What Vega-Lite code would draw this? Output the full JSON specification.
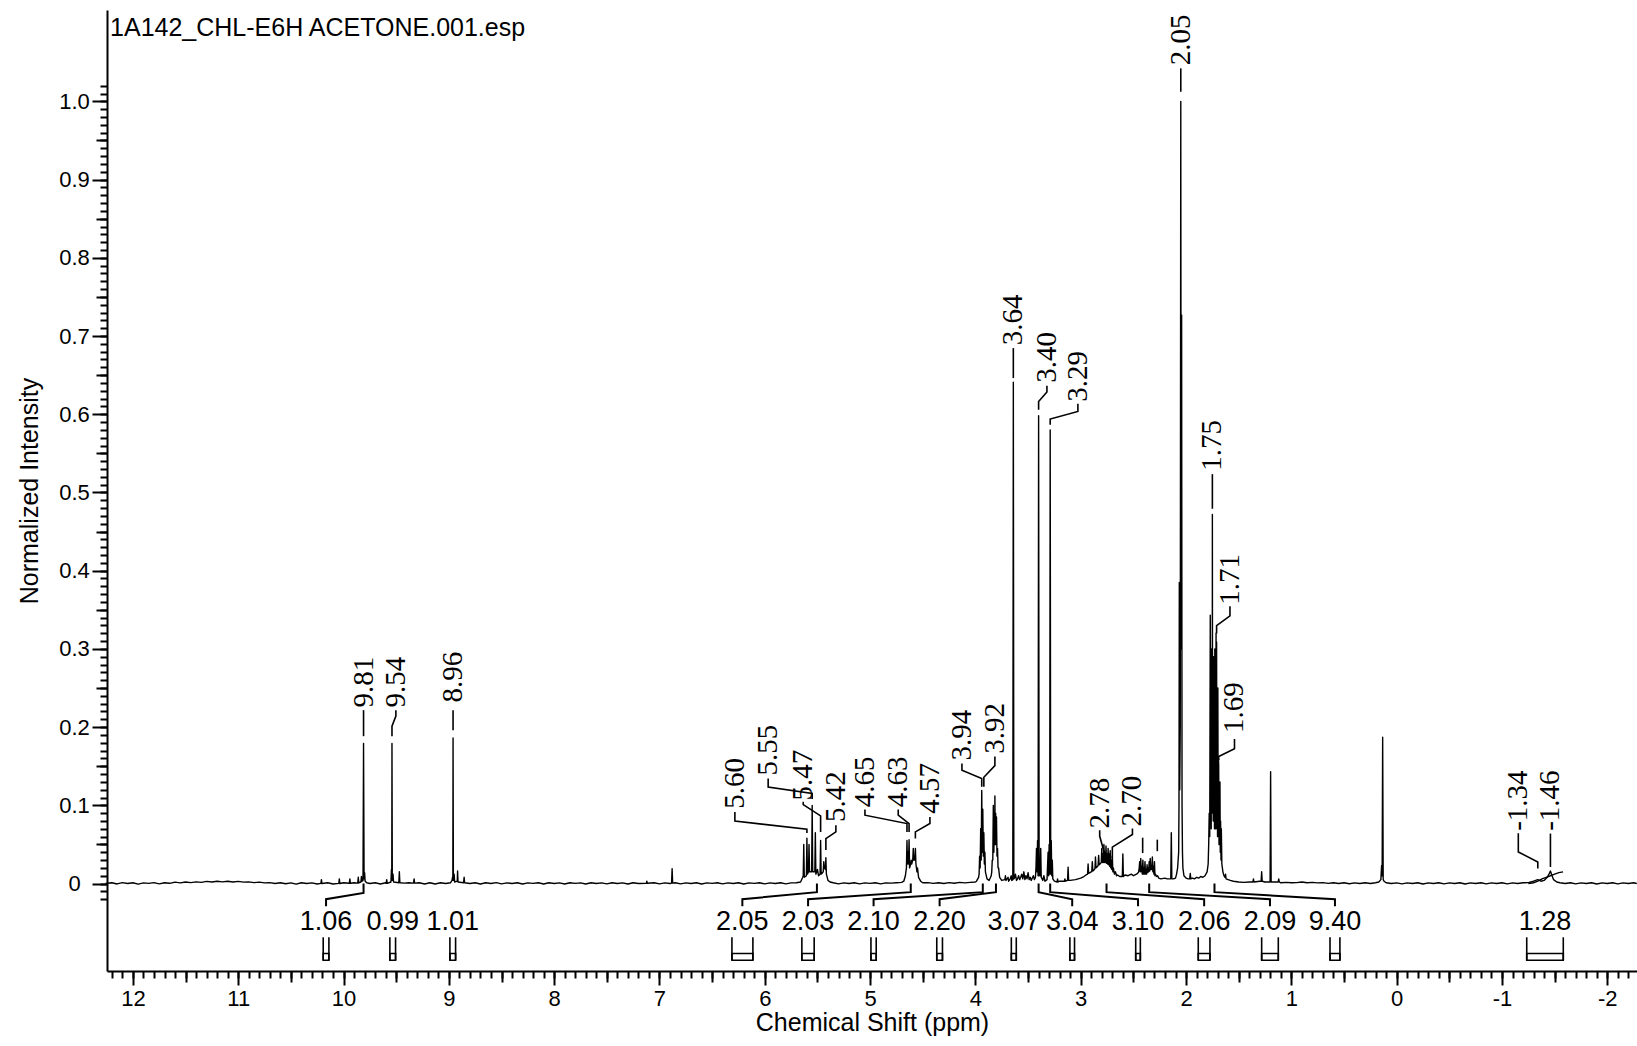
{
  "$schema": "https://vega.github.io/schema/vega-lite/v6.json",
  "width": 1530,
  "height": 961,
  "autosize": "none",
  "padding": {"left": 107, "top": 10, "right": 0, "bottom": 75},
  "background": "white",
  "config": {
    "view": {"stroke": null},
    "axis": {"grid": false, "labelFlush": false, "labelOverlap": false, "labelBound": false, "domainColor": "#000000", "tickColor": "#000000", "labelColor": "#000000", "titleColor": "#000000"}
  },
  "datasets": {
    "heading": [{"t": "1A142_CHL-E6H ACETONE.001.esp"}],
    "spectrum": [
      {"p":12.26,"i":0},{"p":12.2,"i":0.001},{"p":12.15,"i":-0.0005},{"p":12.1,"i":0.0012},{"p":12.05,"i":0},{"p":12,"i":0.001},{"p":11.95,"i":-0.0008},{"p":11.9,"i":0.0008},{"p":11.85,"i":0.0002},{"p":11.8,"i":0.0012},{"p":11.75,"i":-0.0004},{"p":11.7,"i":0.001},{"p":11.65,"i":0.0003},{"p":11.6,"i":0.0018},{"p":11.55,"i":0.0008},{"p":11.5,"i":0.002},{"p":11.45,"i":0.0012},{"p":11.4,"i":0.0022},{"p":11.35,"i":0.0015},{"p":11.3,"i":0.0028},{"p":11.25,"i":0.002},{"p":11.2,"i":0.003},{"p":11.15,"i":0.0022},{"p":11.1,"i":0.003},{"p":11.05,"i":0.002},{"p":11,"i":0.0028},{"p":10.95,"i":0.0018},{"p":10.9,"i":0.0022},{"p":10.85,"i":0.0012},{"p":10.8,"i":0.0018},{"p":10.75,"i":0.0008},{"p":10.7,"i":0.0012},{"p":10.65,"i":0},{"p":10.6,"i":0.001},{"p":10.55,"i":-0.0003},{"p":10.5,"i":0.0008},{"p":10.45,"i":-0.0008},{"p":10.4,"i":0.001},{"p":10.35,"i":0},{"p":10.3,"i":0.0008},{"p":10.25,"i":-0.0006},
      {"p":10.215,"i":0.0002},{"p":10.21,"i":0.005},{"p":10.205,"i":0},{"p":10.15,"i":0.001},{"p":10.1,"i":-0.0006},{"p":10.045,"i":0.0002},{"p":10.04,"i":0.006},{"p":10.035,"i":0},{"p":10,"i":0.001},{"p":9.945,"i":0.0003},{"p":9.94,"i":0.006},{"p":9.935,"i":0.0003},{"p":9.9,"i":0.001},{"p":9.865,"i":0.0005},{"p":9.86,"i":0.008},{"p":9.855,"i":0.0008},{"p":9.835,"i":0.002},{"p":9.83,"i":0.009},{"p":9.825,"i":0.003},{"p":9.815,"i":0.004},{"p":9.81,"i":0.179},{"p":9.805,"i":0.006},{"p":9.8,"i":0.014},{"p":9.795,"i":0.003},{"p":9.78,"i":0.001},{"p":9.75,"i":0},{"p":9.7,"i":0.001},{"p":9.65,"i":-0.0005},{"p":9.6,"i":0.001},{"p":9.595,"i":0.0003},{"p":9.59,"i":0.005},{"p":9.585,"i":0.0003},{"p":9.55,"i":0.002},{"p":9.545,"i":0.018},{"p":9.542,"i":0.005},{"p":9.54,"i":0.179},{"p":9.537,"i":0.004},{"p":9.53,"i":0.012},{"p":9.525,"i":0.002},{"p":9.475,"i":0.001},{"p":9.47,"i":0.015},{"p":9.465,"i":0.001},{"p":9.42,"i":0.0005},{"p":9.38,"i":0.001},{"p":9.335,"i":0.0005},{"p":9.33,"i":0.006},{"p":9.325,"i":0.0005},{"p":9.28,"i":0.001},{"p":9.23,"i":-0.0005},{"p":9.18,"i":0.001},{"p":9.13,"i":-0.0005},{"p":9.08,"i":0.001},{"p":9.03,"i":0},
      {"p":8.985,"i":0.001},{"p":8.97,"i":0.004},{"p":8.965,"i":0.008},{"p":8.962,"i":0.004},{"p":8.96,"i":0.186},{"p":8.957,"i":0.004},{"p":8.95,"i":0.012},{"p":8.945,"i":0.002},{"p":8.92,"i":0.003},{"p":8.917,"i":0.016},{"p":8.913,"i":0.002},{"p":8.86,"i":0.001},{"p":8.855,"i":0.008},{"p":8.85,"i":0.001},{"p":8.8,"i":0},{"p":8.75,"i":0.001},{"p":8.7,"i":-0.0005},{"p":8.65,"i":0.001},{"p":8.6,"i":0},{"p":8.55,"i":0.0012},{"p":8.5,"i":-0.0004},{"p":8.45,"i":0.0008},{"p":8.4,"i":0},{"p":8.35,"i":0.001},{"p":8.3,"i":-0.0006},{"p":8.25,"i":0.0008},{"p":8.2,"i":0.0002},{"p":8.15,"i":0.001},{"p":8.1,"i":-0.0005},{"p":8.05,"i":0.001},{"p":8,"i":0},{"p":7.95,"i":0.0008},{"p":7.9,"i":-0.0005},{"p":7.85,"i":0.001},{"p":7.8,"i":0.0002},{"p":7.75,"i":0.0008},{"p":7.7,"i":-0.0005},{"p":7.65,"i":0.001},{"p":7.6,"i":0},{"p":7.55,"i":0.0008},{"p":7.5,"i":-0.0004},{"p":7.45,"i":0.001},{"p":7.4,"i":0},{"p":7.35,"i":0.0008},{"p":7.3,"i":-0.0005},{"p":7.25,"i":0.001},{"p":7.2,"i":0},{"p":7.125,"i":0.0003},{"p":7.12,"i":0.003},{"p":7.115,"i":0.0003},{"p":7.05,"i":0.001},{"p":7,"i":-0.0004},{"p":6.95,"i":0.0008},{"p":6.9,"i":0},{"p":6.885,"i":0.0005},{"p":6.88,"i":0.019},{"p":6.875,"i":0.0005},{"p":6.85,"i":0.001},{"p":6.8,"i":-0.0004},{"p":6.75,"i":0.0008},{"p":6.7,"i":0},{"p":6.65,"i":0.001},{"p":6.6,"i":-0.0005},{"p":6.55,"i":0.0008},{"p":6.5,"i":0.0002},{"p":6.45,"i":0.001},{"p":6.4,"i":-0.0004},{"p":6.35,"i":0.0008},{"p":6.3,"i":0},{"p":6.25,"i":0.001},{"p":6.2,"i":-0.0005},{"p":6.15,"i":0.0008},{"p":6.1,"i":0.0002},{"p":6.05,"i":0.001},{"p":6,"i":-0.0004},{"p":5.95,"i":0.0008},{"p":5.9,"i":0},{"p":5.85,"i":0.001},{"p":5.8,"i":-0.0004},{"p":5.75,"i":0.0008},{"p":5.7,"i":0.001},
      {"p":5.66,"i":0.002},{"p":5.64,"i":0.008},{"p":5.635,"i":0.01},{"p":5.63,"i":0.05},{"p":5.625,"i":0.008},{"p":5.605,"i":0.01},{"p":5.6,"i":0.058},{"p":5.595,"i":0.012},{"p":5.585,"i":0.015},{"p":5.58,"i":0.05},{"p":5.575,"i":0.015},{"p":5.555,"i":0.015},{"p":5.55,"i":0.1},{"p":5.545,"i":0.015},{"p":5.525,"i":0.015},{"p":5.52,"i":0.065},{"p":5.515,"i":0.012},{"p":5.5,"i":0.018},{"p":5.49,"i":0.01},{"p":5.475,"i":0.012},{"p":5.47,"i":0.055},{"p":5.465,"i":0.012},{"p":5.445,"i":0.015},{"p":5.44,"i":0.028},{"p":5.435,"i":0.02},{"p":5.425,"i":0.018},{"p":5.42,"i":0.033},{"p":5.415,"i":0.012},{"p":5.4,"i":0.004},{"p":5.38,"i":0.002},{"p":5.35,"i":0.001},{"p":5.3,"i":-0.0004},{"p":5.25,"i":0.0008},{"p":5.2,"i":0},{"p":5.15,"i":0.001},{"p":5.1,"i":-0.0004},{"p":5.05,"i":0.0008},{"p":5,"i":0.0002},{"p":4.95,"i":0.001},{"p":4.9,"i":-0.0004},{"p":4.85,"i":0.0008},{"p":4.8,"i":0.0005},{"p":4.75,"i":0.001},{"p":4.7,"i":0.0015},
      {"p":4.68,"i":0.003},{"p":4.665,"i":0.01},{"p":4.655,"i":0.02},{"p":4.65,"i":0.055},{"p":4.645,"i":0.025},{"p":4.64,"i":0.04},{"p":4.635,"i":0.025},{"p":4.63,"i":0.056},{"p":4.625,"i":0.02},{"p":4.615,"i":0.025},{"p":4.61,"i":0.03},{"p":4.605,"i":0.025},{"p":4.595,"i":0.03},{"p":4.59,"i":0.045},{"p":4.585,"i":0.03},{"p":4.575,"i":0.03},{"p":4.57,"i":0.045},{"p":4.565,"i":0.025},{"p":4.555,"i":0.015},{"p":4.55,"i":0.02},{"p":4.54,"i":0.008},{"p":4.52,"i":0.003},{"p":4.5,"i":0.001},{"p":4.45,"i":0.0012},{"p":4.4,"i":0.0002},{"p":4.35,"i":0.001},{"p":4.3,"i":0},{"p":4.25,"i":0.0012},{"p":4.2,"i":0.0004},{"p":4.15,"i":0.0015},{"p":4.1,"i":0.0008},{"p":4.05,"i":0.0015},{"p":4,"i":0.002},
      {"p":3.99,"i":0.003},{"p":3.97,"i":0.008},{"p":3.965,"i":0.012},{"p":3.96,"i":0.035},{"p":3.955,"i":0.02},{"p":3.95,"i":0.07},{"p":3.945,"i":0.03},{"p":3.94,"i":0.119},{"p":3.935,"i":0.04},{"p":3.93,"i":0.095},{"p":3.925,"i":0.035},{"p":3.92,"i":0.065},{"p":3.915,"i":0.025},{"p":3.91,"i":0.04},{"p":3.905,"i":0.015},{"p":3.9,"i":0.012},{"p":3.89,"i":0.006},{"p":3.87,"i":0.004},{"p":3.85,"i":0.01},{"p":3.845,"i":0.015},{"p":3.84,"i":0.03},{"p":3.835,"i":0.03},{"p":3.83,"i":0.1},{"p":3.825,"i":0.04},{"p":3.82,"i":0.085},{"p":3.817,"i":0.05},{"p":3.815,"i":0.112},{"p":3.812,"i":0.05},{"p":3.808,"i":0.09},{"p":3.804,"i":0.05},{"p":3.8,"i":0.085},{"p":3.795,"i":0.035},{"p":3.79,"i":0.045},{"p":3.785,"i":0.02},{"p":3.78,"i":0.02},{"p":3.77,"i":0.008},{"p":3.75,"i":0.004},{"p":3.72,"i":0.005},{"p":3.715,"i":0.01},{"p":3.71,"i":0.004},{"p":3.69,"i":0.008},{"p":3.685,"i":0.003},{"p":3.67,"i":0.006},{"p":3.66,"i":0.01},{"p":3.655,"i":0.004},{"p":3.645,"i":0.005},{"p":3.64,"i":0.641},{"p":3.635,"i":0.006},{"p":3.625,"i":0.008},{"p":3.62,"i":0.012},{"p":3.61,"i":0.004},{"p":3.6,"i":0.006},{"p":3.59,"i":0.01},{"p":3.58,"i":0.005},{"p":3.57,"i":0.008},{"p":3.56,"i":0.012},{"p":3.55,"i":0.006},{"p":3.54,"i":0.015},{"p":3.53,"i":0.005},{"p":3.52,"i":0.01},{"p":3.51,"i":0.006},{"p":3.5,"i":0.014},{"p":3.49,"i":0.005},{"p":3.48,"i":0.008},{"p":3.47,"i":0.004},{"p":3.45,"i":0.01},{"p":3.44,"i":0.005},{"p":3.43,"i":0.008},{"p":3.425,"i":0.02},{"p":3.42,"i":0.045},{"p":3.415,"i":0.015},{"p":3.41,"i":0.055},{"p":3.405,"i":0.01},{"p":3.4,"i":0.598},{"p":3.395,"i":0.01},{"p":3.39,"i":0.03},{"p":3.385,"i":0.01},{"p":3.38,"i":0.045},{"p":3.375,"i":0.008},{"p":3.36,"i":0.004},{"p":3.35,"i":0.01},{"p":3.34,"i":0.003},{"p":3.32,"i":0.005},{"p":3.31,"i":0.04},{"p":3.305,"i":0.01},{"p":3.3,"i":0.05},{"p":3.295,"i":0.012},{"p":3.29,"i":0.58},{"p":3.285,"i":0.012},{"p":3.28,"i":0.055},{"p":3.275,"i":0.01},{"p":3.27,"i":0.03},{"p":3.265,"i":0.006},{"p":3.25,"i":0.003},{"p":3.225,"i":0.002},{"p":3.22,"i":0.006},{"p":3.215,"i":0.002},{"p":3.2,"i":0.003},{"p":3.155,"i":0.003},{"p":3.15,"i":0.006},{"p":3.145,"i":0.003},{"p":3.125,"i":0.004},{"p":3.12,"i":0.021},{"p":3.115,"i":0.004},{"p":3.1,"i":0.004},{"p":3.05,"i":0.005},{"p":3,"i":0.007},{"p":2.97,"i":0.009},
      {"p":2.95,"i":0.011},{"p":2.935,"i":0.012},{"p":2.93,"i":0.025},{"p":2.925,"i":0.013},{"p":2.9,"i":0.015},{"p":2.895,"i":0.016},{"p":2.89,"i":0.028},{"p":2.885,"i":0.016},{"p":2.87,"i":0.018},{"p":2.865,"i":0.019},{"p":2.86,"i":0.034},{"p":2.855,"i":0.02},{"p":2.84,"i":0.022},{"p":2.835,"i":0.023},{"p":2.83,"i":0.036},{"p":2.825,"i":0.024},{"p":2.81,"i":0.026},{"p":2.805,"i":0.027},{"p":2.8,"i":0.045},{"p":2.795,"i":0.027},{"p":2.79,"i":0.038},{"p":2.785,"i":0.027},{"p":2.78,"i":0.05},{"p":2.775,"i":0.027},{"p":2.77,"i":0.04},{"p":2.765,"i":0.027},{"p":2.76,"i":0.048},{"p":2.755,"i":0.026},{"p":2.75,"i":0.038},{"p":2.745,"i":0.025},{"p":2.74,"i":0.045},{"p":2.735,"i":0.024},{"p":2.73,"i":0.038},{"p":2.725,"i":0.022},{"p":2.72,"i":0.042},{"p":2.715,"i":0.02},{"p":2.71,"i":0.03},{"p":2.705,"i":0.018},{"p":2.7,"i":0.035},{"p":2.695,"i":0.015},{"p":2.69,"i":0.02},{"p":2.68,"i":0.012},{"p":2.67,"i":0.015},{"p":2.66,"i":0.01},{"p":2.65,"i":0.011},{"p":2.63,"i":0.009},{"p":2.61,"i":0.009},{"p":2.605,"i":0.009},{"p":2.6,"i":0.038},{"p":2.595,"i":0.009},{"p":2.58,"i":0.011},{"p":2.55,"i":0.01},{"p":2.52,"i":0.012},{"p":2.5,"i":0.01},{"p":2.47,"i":0.012},{"p":2.46,"i":0.013},{"p":2.45,"i":0.015},
      {"p":2.445,"i":0.02},{"p":2.44,"i":0.028},{"p":2.435,"i":0.015},{"p":2.43,"i":0.032},{"p":2.425,"i":0.015},{"p":2.42,"i":0.022},{"p":2.415,"i":0.012},{"p":2.41,"i":0.03},{"p":2.405,"i":0.012},{"p":2.4,"i":0.02},{"p":2.395,"i":0.012},{"p":2.39,"i":0.028},{"p":2.385,"i":0.012},{"p":2.38,"i":0.018},{"p":2.375,"i":0.012},{"p":2.37,"i":0.024},{"p":2.365,"i":0.014},{"p":2.36,"i":0.02},{"p":2.355,"i":0.015},{"p":2.35,"i":0.028},{"p":2.345,"i":0.016},{"p":2.34,"i":0.032},{"p":2.335,"i":0.018},{"p":2.33,"i":0.022},{"p":2.325,"i":0.018},{"p":2.32,"i":0.034},{"p":2.315,"i":0.015},{"p":2.31,"i":0.022},{"p":2.305,"i":0.012},{"p":2.3,"i":0.028},{"p":2.295,"i":0.01},{"p":2.29,"i":0.012},{"p":2.28,"i":0.009},{"p":2.27,"i":0.01},{"p":2.26,"i":0.007},{"p":2.24,"i":0.006},{"p":2.2,"i":0.007},{"p":2.18,"i":0.006},{"p":2.145,"i":0.006},{"p":2.14,"i":0.065},{"p":2.135,"i":0.006},{"p":2.12,"i":0.006},{"p":2.1,"i":0.007},{"p":2.09,"i":0.012},{"p":2.08,"i":0.02},{"p":2.07,"i":0.04},{"p":2.067,"i":0.1},{"p":2.064,"i":0.385},{"p":2.06,"i":0.12},{"p":2.055,"i":0.2},{"p":2.05,"i":1.0},{"p":2.046,"i":0.3},{"p":2.042,"i":0.727},{"p":2.038,"i":0.1},{"p":2.034,"i":0.04},{"p":2.03,"i":0.02},{"p":2.02,"i":0.01},{"p":2,"i":0.007},{"p":1.98,"i":0.006},{"p":1.965,"i":0.006},{"p":1.96,"i":0.013},{"p":1.955,"i":0.006},{"p":1.94,"i":0.007},{"p":1.92,"i":0.006},{"p":1.9,"i":0.008},{"p":1.88,"i":0.007},{"p":1.86,"i":0.009},{"p":1.84,"i":0.008},{"p":1.82,"i":0.01},{"p":1.8,"i":0.015},
      {"p":1.79,"i":0.025},{"p":1.785,"i":0.05},{"p":1.78,"i":0.09},{"p":1.775,"i":0.06},{"p":1.77,"i":0.343},{"p":1.767,"i":0.08},{"p":1.764,"i":0.22},{"p":1.761,"i":0.07},{"p":1.758,"i":0.3},{"p":1.755,"i":0.09},{"p":1.753,"i":0.26},{"p":1.751,"i":0.09},{"p":1.75,"i":0.472},{"p":1.748,"i":0.1},{"p":1.745,"i":0.27},{"p":1.742,"i":0.08},{"p":1.739,"i":0.29},{"p":1.736,"i":0.08},{"p":1.733,"i":0.22},{"p":1.73,"i":0.07},{"p":1.727,"i":0.3},{"p":1.724,"i":0.07},{"p":1.721,"i":0.24},{"p":1.718,"i":0.07},{"p":1.715,"i":0.32},{"p":1.712,"i":0.09},{"p":1.71,"i":0.309},{"p":1.707,"i":0.07},{"p":1.704,"i":0.2},{"p":1.701,"i":0.06},{"p":1.698,"i":0.25},{"p":1.695,"i":0.06},{"p":1.692,"i":0.16},{"p":1.69,"i":0.151},{"p":1.687,"i":0.05},{"p":1.684,"i":0.12},{"p":1.681,"i":0.05},{"p":1.678,"i":0.13},{"p":1.675,"i":0.04},{"p":1.672,"i":0.08},{"p":1.668,"i":0.03},{"p":1.665,"i":0.07},{"p":1.66,"i":0.025},{"p":1.655,"i":0.02},{"p":1.65,"i":0.015},{"p":1.64,"i":0.01},{"p":1.63,"i":0.008},{"p":1.625,"i":0.012},{"p":1.62,"i":0.006},{"p":1.6,"i":0.005},{"p":1.58,"i":0.004},{"p":1.55,"i":0.003},{"p":1.5,"i":0.002},{"p":1.45,"i":0.0015},{"p":1.4,"i":0.002},{"p":1.365,"i":0.002},{"p":1.36,"i":0.006},{"p":1.355,"i":0.002},{"p":1.3,"i":0.003},{"p":1.287,"i":0.003},{"p":1.282,"i":0.015},{"p":1.277,"i":0.003},{"p":1.25,"i":0.002},{"p":1.202,"i":0.002},{"p":1.197,"i":0.143},{"p":1.192,"i":0.002},{"p":1.17,"i":0.002},{"p":1.125,"i":0.002},{"p":1.12,"i":0.006},{"p":1.115,"i":0.002},{"p":1.1,"i":0.001},{"p":1.05,"i":0.0015},{"p":1,"i":0.001},{"p":0.95,"i":0.0012},{"p":0.9,"i":0.002},{"p":0.85,"i":0.001},{"p":0.8,"i":0.0015},{"p":0.75,"i":0.0008},{"p":0.7,"i":0.0012},{"p":0.65,"i":0.0002},{"p":0.6,"i":0.001},{"p":0.55,"i":0},{"p":0.5,"i":0.001},{"p":0.45,"i":-0.0002},{"p":0.4,"i":0.0008},{"p":0.35,"i":0},{"p":0.3,"i":0.001},{"p":0.25,"i":0},{"p":0.2,"i":0.001},{"p":0.17,"i":0.002},{"p":0.15,"i":0.005},{"p":0.143,"i":0.023},{"p":0.138,"i":0.01},{"p":0.133,"i":0.187},{"p":0.128,"i":0.005},{"p":0.12,"i":0.003},{"p":0.1,"i":0.001},{"p":0.05,"i":0},
      {"p":0,"i":0.0008},{"p":-0.05,"i":-0.0004},{"p":-0.1,"i":0.0008},{"p":-0.15,"i":0},{"p":-0.2,"i":0.001},{"p":-0.25,"i":-0.0005},{"p":-0.3,"i":0.0008},{"p":-0.35,"i":0},{"p":-0.4,"i":0.001},{"p":-0.45,"i":-0.0004},{"p":-0.5,"i":0.0008},{"p":-0.55,"i":0},{"p":-0.6,"i":0.001},{"p":-0.65,"i":-0.0005},{"p":-0.7,"i":0.0008},{"p":-0.75,"i":0},{"p":-0.8,"i":0.001},{"p":-0.85,"i":-0.0004},{"p":-0.9,"i":0.0008},{"p":-0.95,"i":0},{"p":-1,"i":0.001},{"p":-1.05,"i":-0.0004},{"p":-1.1,"i":0.0008},{"p":-1.15,"i":0},{"p":-1.2,"i":0.001},{"p":-1.25,"i":0.0012},{"p":-1.3,"i":0.003},{"p":-1.32,"i":0.004},{"p":-1.34,"i":0.005},{"p":-1.37,"i":0.003},{"p":-1.4,"i":0.004},{"p":-1.43,"i":0.008},{"p":-1.45,"i":0.013},{"p":-1.46,"i":0.016},{"p":-1.47,"i":0.012},{"p":-1.49,"i":0.005},{"p":-1.52,"i":0.002},{"p":-1.55,"i":0.001},{"p":-1.6,"i":0},{"p":-1.65,"i":0.001},{"p":-1.7,"i":-0.0004},{"p":-1.75,"i":0.0008},{"p":-1.8,"i":0},{"p":-1.85,"i":0.001},{"p":-1.9,"i":-0.0005},{"p":-1.95,"i":0.0008},{"p":-2,"i":0},{"p":-2.05,"i":0.001},{"p":-2.1,"i":-0.0004},{"p":-2.15,"i":0.0008},{"p":-2.2,"i":0},{"p":-2.25,"i":0.001},{"p":-2.28,"i":0}
    ],
    "integral": [
      {"p":-1.25,"i":0},{"p":-1.3,"i":0.001},{"p":-1.34,"i":0.003},{"p":-1.38,"i":0.006},{"p":-1.42,"i":0.008},{"p":-1.46,"i":0.01},{"p":-1.5,"i":0.012},{"p":-1.54,"i":0.014},{"p":-1.58,"i":0.015}
    ],
    "peakLeaders": [
      {"id":"9.81","k":1,"p":9.81,"i":0.2217},{"id":"9.81","k":2,"p":9.81,"i":0.1884},
      {"id":"9.54","k":1,"p":9.503,"i":0.2217},{"id":"9.54","k":2,"p":9.503,"i":0.214},{"id":"9.54","k":3,"p":9.54,"i":0.2012},{"id":"9.54","k":4,"p":9.54,"i":0.1884},
      {"id":"8.96","k":1,"p":8.96,"i":0.2217},{"id":"8.96","k":2,"p":8.96,"i":0.1961},
      {"id":"5.60","k":1,"p":6.284,"i":0.0916},{"id":"5.60","k":2,"p":6.284,"i":0.08},{"id":"5.60","k":3,"p":5.6,"i":0.0694},{"id":"5.60","k":4,"p":5.6,"i":0.0647},
      {"id":"5.55","k":1,"p":5.968,"i":0.1343},{"id":"5.55","k":2,"p":5.968,"i":0.1235},{"id":"5.55","k":3,"p":5.55,"i":0.1151},{"id":"5.55","k":4,"p":5.55,"i":0.108},
      {"id":"5.47","k":1,"p":5.635,"i":0.1047},{"id":"5.47","k":2,"p":5.635,"i":0.101},{"id":"5.47","k":3,"p":5.47,"i":0.0865},{"id":"5.47","k":4,"p":5.47,"i":0.066},
      {"id":"5.42","k":1,"p":5.325,"i":0.0745},{"id":"5.42","k":2,"p":5.325,"i":0.066},{"id":"5.42","k":3,"p":5.42,"i":0.0575},{"id":"5.42","k":4,"p":5.42,"i":0.043},
      {"id":"4.65","k":1,"p":5.049,"i":0.0946},{"id":"4.65","k":2,"p":5.049,"i":0.0874},{"id":"4.65","k":3,"p":4.65,"i":0.0767},{"id":"4.65","k":4,"p":4.65,"i":0.066},
      {"id":"4.63","k":1,"p":4.733,"i":0.0946},{"id":"4.63","k":2,"p":4.733,"i":0.0874},{"id":"4.63","k":3,"p":4.63,"i":0.0767},{"id":"4.63","k":4,"p":4.63,"i":0.066},
      {"id":"4.57","k":1,"p":4.432,"i":0.0852},{"id":"4.57","k":2,"p":4.432,"i":0.0767},{"id":"4.57","k":3,"p":4.57,"i":0.066},{"id":"4.57","k":4,"p":4.57,"i":0.0575},
      {"id":"3.94","k":1,"p":4.128,"i":0.1536},{"id":"3.94","k":2,"p":4.128,"i":0.145},{"id":"3.94","k":3,"p":3.94,"i":0.1343},{"id":"3.94","k":4,"p":3.94,"i":0.1236},
      {"id":"3.92","k":1,"p":3.815,"i":0.1623},{"id":"3.92","k":2,"p":3.815,"i":0.1508},{"id":"3.92","k":3,"p":3.92,"i":0.1359},{"id":"3.92","k":4,"p":3.92,"i":0.1236},
      {"id":"3.64","k":1,"p":3.64,"i":0.6845},{"id":"3.64","k":2,"p":3.64,"i":0.6462},
      {"id":"3.40","k":1,"p":3.321,"i":0.6363},{"id":"3.40","k":2,"p":3.321,"i":0.6284},{"id":"3.40","k":3,"p":3.4,"i":0.6163},{"id":"3.40","k":4,"p":3.4,"i":0.6058},
      {"id":"3.29","k":1,"p":3.027,"i":0.6135},{"id":"3.29","k":2,"p":3.027,"i":0.6036},{"id":"3.29","k":3,"p":3.29,"i":0.5939},{"id":"3.29","k":4,"p":3.29,"i":0.5865},
      {"id":"2.78","k":1,"p":2.82,"i":0.0681},{"id":"2.78","k":2,"p":2.82,"i":0.0607},{"id":"2.78","k":3,"p":2.78,"i":0.0412},{"id":"2.78","k":4,"p":2.78,"i":0.0349},
      {"id":"2.70","k":1,"p":2.509,"i":0.0704},{"id":"2.70","k":2,"p":2.509,"i":0.0627},{"id":"2.70","k":3,"p":2.7,"i":0.0465},{"id":"2.70","k":4,"p":2.7,"i":0.0325},
      {"id":"2.05","k":1,"p":2.05,"i":1.0422},{"id":"2.05","k":2,"p":2.05,"i":1.0123},
      {"id":"1.75","k":1,"p":1.75,"i":0.5234},{"id":"1.75","k":2,"p":1.75,"i":0.4792},
      {"id":"1.71","k":1,"p":1.583,"i":0.3545},{"id":"1.71","k":2,"p":1.583,"i":0.3421},{"id":"1.71","k":3,"p":1.71,"i":0.3297},{"id":"1.71","k":4,"p":1.71,"i":0.3198},
      {"id":"1.69","k":1,"p":1.54,"i":0.1847},{"id":"1.69","k":2,"p":1.54,"i":0.1723},{"id":"1.69","k":3,"p":1.69,"i":0.1625},{"id":"1.69","k":4,"p":1.69,"i":0.158},
      {"id":"-1.34","k":1,"p":-1.155,"i":0.0643},{"id":"-1.34","k":2,"p":-1.155,"i":0.0404},{"id":"-1.34","k":3,"p":-1.34,"i":0.0276},{"id":"-1.34","k":4,"p":-1.34,"i":0.0192},
      {"id":"-1.46","k":1,"p":-1.46,"i":0.0639},{"id":"-1.46","k":2,"p":-1.46,"i":0.0211},
      {"id":"2.41","k":1,"p":2.412,"i":0.0586},{"id":"2.41","k":2,"p":2.412,"i":0.039},
      {"id":"2.27","k":1,"p":2.273,"i":0.0561},{"id":"2.27","k":2,"p":2.273,"i":0.0414}
    ],
    "peakLabels": [
      {"t":"9.81","p":9.81,"i":0.2575},{"t":"9.54","p":9.503,"i":0.2575},{"t":"8.96","p":8.96,"i":0.264},
      {"t":"5.60","p":6.284,"i":0.128},{"t":"5.55","p":5.968,"i":0.1706},{"t":"5.47","p":5.635,"i":0.1386},{"t":"5.42","p":5.325,"i":0.111},
      {"t":"4.65","p":5.049,"i":0.13},{"t":"4.63","p":4.733,"i":0.13},{"t":"4.57","p":4.432,"i":0.1216},
      {"t":"3.94","p":4.128,"i":0.1898},{"t":"3.92","p":3.815,"i":0.1983},
      {"t":"3.64","p":3.64,"i":0.7205},{"t":"3.40","p":3.321,"i":0.6727},{"t":"3.29","p":3.027,"i":0.6483},
      {"t":"2.78","p":2.82,"i":0.1028},{"t":"2.70","p":2.509,"i":0.1054},
      {"t":"2.05","p":2.05,"i":1.0785},{"t":"1.75","p":1.75,"i":0.5602},{"t":"1.71","p":1.583,"i":0.389},{"t":"1.69","p":1.54,"i":0.225},
      {"t":"-1.34","p":-1.155,"i":0.106},{"t":"-1.46","p":-1.46,"i":0.106}
    ],
    "intLeaders": [
      {"id":"1.06","k":1,"p":9.81,"i":0},{"id":"1.06","k":2,"p":9.81,"i":-0.012},{"id":"1.06","k":3,"p":10.166,"i":-0.02},{"id":"1.06","k":4,"p":10.166,"i":-0.029},
      {"id":"2.05","k":1,"p":5.505,"i":0},{"id":"2.05","k":2,"p":5.505,"i":-0.011},{"id":"2.05","k":3,"p":6.213,"i":-0.02},{"id":"2.05","k":4,"p":6.213,"i":-0.029},
      {"id":"2.03","k":1,"p":4.614,"i":0},{"id":"2.03","k":2,"p":4.614,"i":-0.011},{"id":"2.03","k":3,"p":5.589,"i":-0.02},{"id":"2.03","k":4,"p":5.589,"i":-0.029},
      {"id":"2.10","k":1,"p":3.93,"i":0},{"id":"2.10","k":2,"p":3.93,"i":-0.011},{"id":"2.10","k":3,"p":4.967,"i":-0.02},{"id":"2.10","k":4,"p":4.967,"i":-0.029},
      {"id":"2.20","k":1,"p":3.805,"i":0},{"id":"2.20","k":2,"p":3.805,"i":-0.011},{"id":"2.20","k":3,"p":4.34,"i":-0.02},{"id":"2.20","k":4,"p":4.34,"i":-0.029},
      {"id":"3.04","k":1,"p":3.4,"i":0},{"id":"3.04","k":2,"p":3.4,"i":-0.011},{"id":"3.04","k":3,"p":3.081,"i":-0.02},{"id":"3.04","k":4,"p":3.081,"i":-0.029},
      {"id":"3.10","k":1,"p":3.29,"i":0},{"id":"3.10","k":2,"p":3.29,"i":-0.011},{"id":"3.10","k":3,"p":2.456,"i":-0.02},{"id":"3.10","k":4,"p":2.456,"i":-0.029},
      {"id":"2.06","k":1,"p":2.755,"i":0},{"id":"2.06","k":2,"p":2.755,"i":-0.011},{"id":"2.06","k":3,"p":1.828,"i":-0.02},{"id":"2.06","k":4,"p":1.828,"i":-0.029},
      {"id":"2.09","k":1,"p":2.35,"i":0},{"id":"2.09","k":2,"p":2.35,"i":-0.011},{"id":"2.09","k":3,"p":1.203,"i":-0.02},{"id":"2.09","k":4,"p":1.203,"i":-0.029},
      {"id":"9.40","k":1,"p":1.73,"i":0},{"id":"9.40","k":2,"p":1.73,"i":-0.011},{"id":"9.40","k":3,"p":0.586,"i":-0.02},{"id":"9.40","k":4,"p":0.586,"i":-0.029}
    ],
    "intLabels": [
      {"t":"1.06","p":10.166},{"t":"0.99","p":9.533},{"t":"1.01","p":8.963},{"t":"2.05","p":6.213},{"t":"2.03","p":5.589},{"t":"2.10","p":4.967},{"t":"2.20","p":4.34},{"t":"3.07","p":3.635},{"t":"3.04","p":3.081},{"t":"3.10","p":2.456},{"t":"2.06","p":1.828},{"t":"2.09","p":1.203},{"t":"9.40","p":0.586},{"t":"1.28","p":-1.408}
    ],
    "intRanges": [
      {"t":"1.06","p":10.193,"p2":10.139},{"t":"0.99","p":9.56,"p2":9.506},{"t":"1.01","p":8.99,"p2":8.936},{"t":"2.05","p":6.312,"p2":6.113},{"t":"2.03","p":5.648,"p2":5.531},{"t":"2.10","p":4.992,"p2":4.942},{"t":"2.20","p":4.367,"p2":4.313},{"t":"3.07","p":3.659,"p2":3.612},{"t":"3.04","p":3.103,"p2":3.059},{"t":"3.10","p":2.478,"p2":2.434},{"t":"2.06","p":1.884,"p2":1.773},{"t":"2.09","p":1.282,"p2":1.124},{"t":"9.40","p":0.633,"p2":0.539},{"t":"1.28","p":-1.235,"p2":-1.582}
    ]
  },
  "resolve": {"axis": {"x": "independent", "y": "independent"}},
  "layer": [
    {
      "data": {"name": "spectrum"},
      "mark": {"type": "line", "color": "#000000", "strokeWidth": 1.4, "strokeJoin": "round"},
      "encoding": {
        "x": {"field": "p", "type": "quantitative",
          "scale": {"domain": [-2.282, 12.246], "reverse": true, "nice": false, "zero": false},
          "axis": {"orient": "bottom", "values": [12,11,10,9,8,7,6,5,4,3,2,1,0,-1,-2], "labelExpr": "'' + datum.value",
            "tickSize": 14, "tickWidth": 2, "domainWidth": 2, "labelFont": "Liberation Sans", "labelFontSize": 22, "labelPadding": 3,
            "title": "Chemical Shift (ppm)", "titleFont": "Liberation Sans", "titleFontSize": 25, "titleFontWeight": "normal", "titlePadding": 1}},
        "y": {"field": "i", "type": "quantitative",
          "scale": {"domain": [-0.1118, 1.1168], "nice": false, "zero": false},
          "axis": {"orient": "left", "values": [0,0.1,0.2,0.3,0.4,0.5,0.6,0.7,0.8,0.9,1.0],
            "labelExpr": "datum.value == 0 ? '0' : format(datum.value, '.1f')",
            "tickSize": 15, "tickWidth": 2, "domainWidth": 2, "labelFont": "Liberation Sans", "labelFontSize": 22,
            "labelAlign": "center", "labelBaseline": "middle", "labelPadding": 18,
            "title": "Normalized Intensity", "titleFont": "Liberation Sans", "titleFontSize": 25, "titleFontWeight": "normal", "titlePadding": 16}}
      }
    },
    {
      "data": {"name": "integral"},
      "mark": {"type": "line", "color": "#000000", "strokeWidth": 1.4},
      "encoding": {
        "x": {"field": "p", "type": "quantitative",
          "scale": {"domain": [-2.282, 12.246], "reverse": true, "nice": false, "zero": false},
          "axis": {"orient": "bottom", "labels": false, "domain": false, "title": null, "tickSize": 7, "tickWidth": 2,
            "values": [12.2,12.1,12.0,11.9,11.8,11.7,11.6,11.5,11.4,11.3,11.2,11.1,11.0,10.9,10.8,10.7,10.6,10.5,10.4,10.3,10.2,10.1,10.0,9.9,9.8,9.7,9.6,9.5,9.4,9.3,9.2,9.1,9.0,8.9,8.8,8.7,8.6,8.5,8.4,8.3,8.2,8.1,8.0,7.9,7.8,7.7,7.6,7.5,7.4,7.3,7.2,7.1,7.0,6.9,6.8,6.7,6.6,6.5,6.4,6.3,6.2,6.1,6.0,5.9,5.8,5.7,5.6,5.5,5.4,5.3,5.2,5.1,5.0,4.9,4.8,4.7,4.6,4.5,4.4,4.3,4.2,4.1,4.0,3.9,3.8,3.7,3.6,3.5,3.4,3.3,3.2,3.1,3.0,2.9,2.8,2.7,2.6,2.5,2.4,2.3,2.2,2.1,2.0,1.9,1.8,1.7,1.6,1.5,1.4,1.3,1.2,1.1,1.0,0.9,0.8,0.7,0.6,0.5,0.4,0.3,0.2,0.1,0.0,-0.1,-0.2,-0.3,-0.4,-0.5,-0.6,-0.7,-0.8,-0.9,-1.0,-1.1,-1.2,-1.3,-1.4,-1.5,-1.6,-1.7,-1.8,-1.9,-2.0,-2.1,-2.2]}},
        "y": {"field": "i", "type": "quantitative",
          "scale": {"domain": [-0.1118, 1.1168], "nice": false, "zero": false},
          "axis": {"orient": "left", "labels": false, "domain": false, "title": null, "tickSize": 7, "tickWidth": 2,
            "values": [-0.02,-0.01,0,0.01,0.02,0.03,0.04,0.05,0.06,0.07,0.08,0.09,0.1,0.11,0.12,0.13,0.14,0.15,0.16,0.17,0.18,0.19,0.2,0.21,0.22,0.23,0.24,0.25,0.26,0.27,0.28,0.29,0.3,0.31,0.32,0.33,0.34,0.35,0.36,0.37,0.38,0.39,0.4,0.41,0.42,0.43,0.44,0.45,0.46,0.47,0.48,0.49,0.5,0.51,0.52,0.53,0.54,0.55,0.56,0.57,0.58,0.59,0.6,0.61,0.62,0.63,0.64,0.65,0.66,0.67,0.68,0.69,0.7,0.71,0.72,0.73,0.74,0.75,0.76,0.77,0.78,0.79,0.8,0.81,0.82,0.83,0.84,0.85,0.86,0.87,0.88,0.89,0.9,0.91,0.92,0.93,0.94,0.95,0.96,0.97,0.98,0.99,1.0,1.01,1.02]}}
      }
    },
    {
      "data": {"name": "intLeaders"},
      "mark": {"type": "line", "color": "#000000", "strokeWidth": 2, "strokeJoin": "miter"},
      "encoding": {
        "x": {"field": "p", "type": "quantitative",
          "scale": {"domain": [-2.282, 12.246], "reverse": true, "nice": false, "zero": false},
          "axis": {"orient": "bottom", "labels": false, "domain": false, "title": null, "tickSize": 11, "tickWidth": 2,
            "values": [11.5,10.5,9.5,8.5,7.5,6.5,5.5,4.5,3.5,2.5,1.5,0.5,-0.5,-1.5]}},
        "y": {"field": "i", "type": "quantitative",
          "scale": {"domain": [-0.1118, 1.1168], "nice": false, "zero": false},
          "axis": {"orient": "left", "labels": false, "domain": false, "title": null, "tickSize": 11, "tickWidth": 2,
            "values": [0.05,0.15,0.25,0.35,0.45,0.55,0.65,0.75,0.85,0.95]}},
        "detail": {"field": "id"},
        "order": {"field": "k"}
      }
    },
    {
      "data": {"name": "peakLeaders"},
      "mark": {"type": "line", "color": "#000000", "strokeWidth": 1.6, "strokeJoin": "miter"},
      "encoding": {
        "x": {"field": "p", "type": "quantitative", "axis": null},
        "y": {"field": "i", "type": "quantitative", "axis": null},
        "detail": {"field": "id"},
        "order": {"field": "k"}
      }
    },
    {
      "data": {"name": "peakLabels"},
      "mark": {"type": "text", "angle": 270, "align": "center", "baseline": "middle", "font": "Liberation Serif", "fontSize": 29, "color": "#000000"},
      "encoding": {
        "x": {"field": "p", "type": "quantitative", "axis": null},
        "y": {"field": "i", "type": "quantitative", "axis": null},
        "text": {"field": "t"}
      }
    },
    {
      "data": {"name": "intLabels"},
      "mark": {"type": "text", "align": "center", "baseline": "middle", "font": "Liberation Sans", "fontSize": 27, "color": "#000000"},
      "encoding": {
        "x": {"field": "p", "type": "quantitative", "axis": null},
        "y": {"datum": -0.0491, "type": "quantitative", "axis": null},
        "text": {"field": "t"}
      }
    },
    {
      "data": {"name": "intRanges"},
      "mark": {"type": "rect", "fill": "#ffffff", "stroke": "#000000", "strokeWidth": 1.6},
      "encoding": {
        "x": {"field": "p", "type": "quantitative", "axis": null},
        "x2": {"field": "p2"},
        "y": {"datum": -0.0895, "type": "quantitative", "axis": null},
        "y2": {"datum": -0.098}
      }
    },
    {
      "data": {"name": "intRanges"},
      "transform": [{"fold": ["p", "p2"], "as": ["end", "edge"]}],
      "mark": {"type": "rule", "color": "#000000", "strokeWidth": 1.6},
      "encoding": {
        "x": {"field": "edge", "type": "quantitative", "axis": null},
        "y": {"datum": -0.0687, "type": "quantitative", "axis": null},
        "y2": {"datum": -0.098}
      }
    },
    {
      "data": {"name": "heading"},
      "mark": {"type": "text", "align": "left", "baseline": "alphabetic", "font": "Liberation Sans", "fontSize": 25, "color": "#000000"},
      "encoding": {
        "x": {"datum": 12.217, "type": "quantitative", "axis": null},
        "y": {"datum": 1.0835, "type": "quantitative", "axis": null},
        "text": {"field": "t"}
      }
    }
  ]
}
